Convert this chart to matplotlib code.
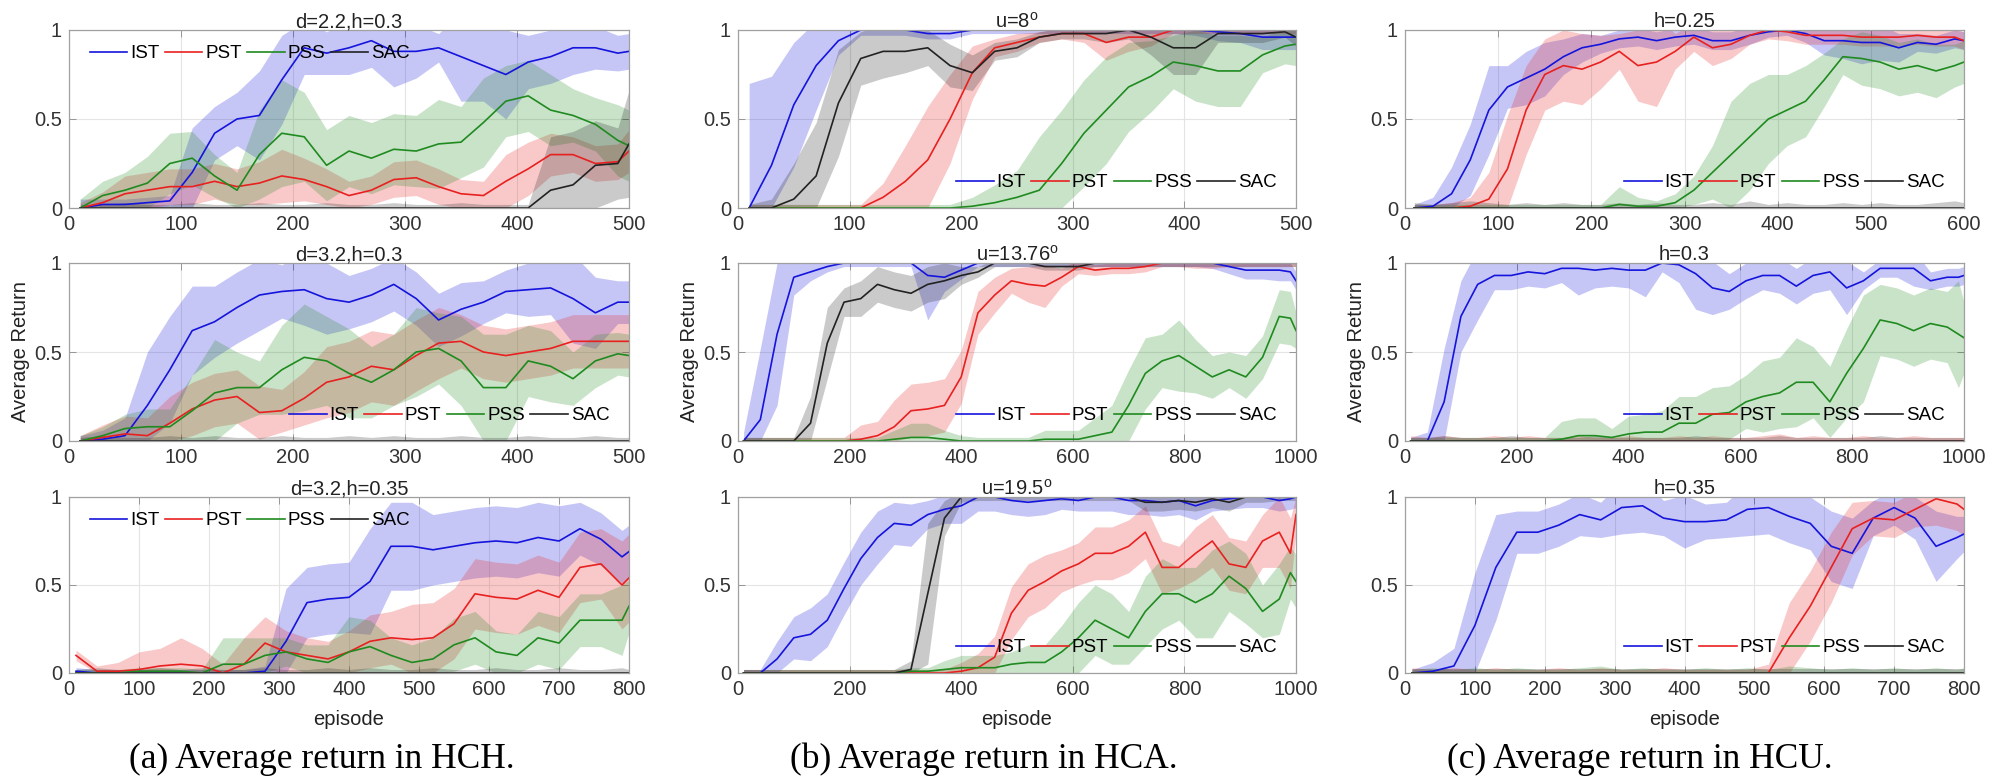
import numpy as np
import matplotlib.pyplot as plt

plt.rcParams['font.family'] = ['Liberation Sans', 'DejaVu Sans']
plt.rcParams['mathtext.fontset'] = 'custom'
plt.rcParams['mathtext.rm'] = 'Liberation Sans'
plt.rcParams['mathtext.it'] = 'Liberation Sans'

# episode grids
ep_500 = np.r_[np.arange(10, 500, 20), 500]
ep_600 = np.r_[np.arange(10, 600, 20), 600]
ep_800 = np.r_[np.arange(10, 800, 30), 800]
ep_1000 = np.r_[np.arange(10, 1000, 30), 990, 1000]

methods = ["IST", "PST", "PSS", "SAC"]

# ---- (a) HCH ----
a1_ist_m = [0, 0.02, 0.02, 0.03, 0.04, 0.2, 0.42, 0.5, 0.52, 0.72, 0.9, 0.87, 0.9, 0.94, 0.88, 0.88, 0.9, 0.85, 0.8, 0.75, 0.82, 0.85, 0.9, 0.9, 0.87, 0.88]
a1_ist_sd = [0.05, 0.03, 0.03, 0.03, 0.03, 0.25, 0.15, 0.15, 0.25, 0.25, 0.15, 0.12, 0.15, 0.15, 0.2, 0.15, 0.08, 0.25, 0.2, 0.25, 0.15, 0.15, 0.15, 0.12, 0.1, 0.1]
a1_pst_m = [0, 0.03, 0.08, 0.1, 0.12, 0.12, 0.15, 0.12, 0.14, 0.18, 0.16, 0.12, 0.07, 0.1, 0.16, 0.17, 0.12, 0.08, 0.07, 0.15, 0.22, 0.3, 0.3, 0.25, 0.26, 0.32]
a1_pst_sd = [0.03, 0.06, 0.1, 0.1, 0.1, 0.1, 0.1, 0.1, 0.12, 0.15, 0.12, 0.1, 0.08, 0.08, 0.1, 0.1, 0.1, 0.08, 0.08, 0.15, 0.15, 0.12, 0.1, 0.1, 0.1, 0.12]
a1_pss_m = [0, 0.07, 0.1, 0.14, 0.25, 0.28, 0.18, 0.1, 0.3, 0.42, 0.4, 0.24, 0.32, 0.28, 0.33, 0.32, 0.36, 0.37, 0.48, 0.6, 0.63, 0.55, 0.52, 0.47, 0.38, 0.35]
a1_pss_sd = [0.05, 0.08, 0.1, 0.15, 0.17, 0.15, 0.12, 0.1, 0.25, 0.3, 0.25, 0.2, 0.2, 0.2, 0.2, 0.2, 0.25, 0.2, 0.25, 0.2, 0.2, 0.2, 0.15, 0.15, 0.2, 0.2]
a1_sac_m = [0, 0, 0, 0, 0, 0, 0, 0, 0, 0, 0, 0, 0, 0, 0, 0, 0, 0, 0, 0, 0, 0.1, 0.13, 0.24, 0.25, 0.36]
a1_sac_sd = [0.02, 0.02, 0.03, 0.02, 0.02, 0.03, 0.02, 0.02, 0.03, 0.02, 0.02, 0.03, 0.02, 0.02, 0.03, 0.02, 0.02, 0.03, 0.02, 0.02, 0.02, 0.3, 0.3, 0.25, 0.2, 0.3]

a2_ist_m = [0, 0.01, 0.03, 0.2, 0.4, 0.62, 0.67, 0.75, 0.82, 0.84, 0.85, 0.8, 0.78, 0.82, 0.88, 0.8, 0.68, 0.74, 0.78, 0.84, 0.85, 0.86, 0.8, 0.72, 0.78, 0.78]
a2_ist_sd = [0.03, 0.05, 0.1, 0.3, 0.3, 0.25, 0.2, 0.2, 0.2, 0.15, 0.2, 0.2, 0.15, 0.15, 0.15, 0.15, 0.15, 0.15, 0.12, 0.12, 0.15, 0.15, 0.25, 0.2, 0.12, 0.12]
a2_pst_m = [0, 0.02, 0.04, 0.03, 0.1, 0.18, 0.23, 0.25, 0.16, 0.17, 0.24, 0.33, 0.36, 0.42, 0.4, 0.48, 0.55, 0.56, 0.5, 0.48, 0.5, 0.52, 0.56, 0.56, 0.56, 0.56]
a2_pst_sd = [0.03, 0.07, 0.1, 0.1, 0.15, 0.15, 0.15, 0.15, 0.15, 0.12, 0.15, 0.2, 0.2, 0.2, 0.2, 0.2, 0.2, 0.15, 0.15, 0.15, 0.15, 0.15, 0.15, 0.15, 0.15, 0.15]
a2_pss_m = [0, 0.03, 0.07, 0.08, 0.08, 0.17, 0.27, 0.3, 0.3, 0.4, 0.47, 0.45, 0.38, 0.33, 0.4, 0.5, 0.52, 0.45, 0.3, 0.3, 0.45, 0.42, 0.35, 0.45, 0.49, 0.48]
a2_pss_sd = [0.03, 0.05, 0.08, 0.1, 0.1, 0.2, 0.3, 0.2, 0.15, 0.25, 0.3, 0.25, 0.25, 0.2, 0.2, 0.25, 0.2, 0.25, 0.3, 0.3, 0.2, 0.2, 0.15, 0.15, 0.12, 0.12]
a2_sac_m = [0, 0, 0, 0, 0, 0, 0, 0, 0, 0, 0, 0, 0, 0, 0, 0, 0, 0, 0, 0, 0, 0, 0, 0, 0, 0]
a2_sac_sd = [0.02, 0.03, 0.02, 0.02, 0.03, 0.02, 0.03, 0.02, 0.02, 0.03, 0.02, 0.02, 0.03, 0.02, 0.03, 0.02, 0.02, 0.03, 0.02, 0.02, 0.03, 0.02, 0.02, 0.03, 0.02, 0.02]

a3_ist_m = [0.01, 0, 0, 0, 0, 0, 0, 0, 0, 0.01, 0.18, 0.4, 0.42, 0.43, 0.52, 0.72, 0.72, 0.7, 0.72, 0.74, 0.75, 0.74, 0.77, 0.75, 0.82, 0.76, 0.66, 0.69]
a3_ist_sd = [0.02, 0.02, 0.02, 0.02, 0.02, 0.02, 0.02, 0.02, 0.02, 0.03, 0.3, 0.2, 0.2, 0.2, 0.3, 0.25, 0.25, 0.2, 0.2, 0.2, 0.2, 0.2, 0.2, 0.2, 0.15, 0.15, 0.15, 0.15]
a3_pst_m = [0.1, 0.01, 0.01, 0.02, 0.04, 0.05, 0.04, 0.0, 0.05, 0.17, 0.12, 0.1, 0.08, 0.12, 0.18, 0.2, 0.19, 0.2, 0.28, 0.45, 0.43, 0.42, 0.47, 0.43, 0.6, 0.62, 0.5, 0.54]
a3_pst_sd = [0.03, 0.03, 0.05, 0.1, 0.1, 0.15, 0.1, 0.05, 0.15, 0.15, 0.12, 0.1, 0.1, 0.12, 0.15, 0.15, 0.2, 0.2, 0.2, 0.2, 0.2, 0.2, 0.2, 0.2, 0.2, 0.2, 0.25, 0.25]
a3_pss_m = [0, 0, 0, 0.01, 0.01, 0.01, 0, 0.05, 0.05, 0.1, 0.12, 0.08, 0.06, 0.12, 0.15, 0.1, 0.06, 0.08, 0.16, 0.2, 0.12, 0.1, 0.2, 0.17, 0.3, 0.3, 0.3, 0.38]
a3_pss_sd = [0.02, 0.02, 0.02, 0.02, 0.02, 0.02, 0.02, 0.15, 0.15, 0.1, 0.08, 0.08, 0.1, 0.2, 0.15, 0.1, 0.1, 0.12, 0.15, 0.15, 0.12, 0.12, 0.15, 0.15, 0.15, 0.15, 0.2, 0.15]
a3_sac_m = [0, 0, 0, 0, 0, 0, 0, 0, 0, 0, 0, 0, 0, 0, 0, 0, 0, 0, 0, 0, 0, 0, 0, 0, 0, 0, 0, 0]
a3_sac_sd = [0.02, 0.03, 0.02, 0.02, 0.03, 0.02, 0.03, 0.02, 0.02, 0.03, 0.02, 0.02, 0.03, 0.02, 0.03, 0.02, 0.02, 0.03, 0.02, 0.02, 0.03, 0.02, 0.02, 0.03, 0.02, 0.02, 0.03, 0.02]

# ---- (b) HCA ----
b1_ist_m = [0, 0.24, 0.58, 0.8, 0.94, 1, 1, 1, 0.98, 0.98, 1, 1, 1, 1, 1, 1, 1, 1, 1, 1, 1, 0.99, 0.98, 0.96, 0.96, 0.96]
b1_ist_sd = [0.7, 0.5, 0.35, 0.25, 0.08, 0.03, 0.03, 0.03, 0.03, 0.03, 0.02, 0.02, 0.02, 0.02, 0.02, 0.02, 0.02, 0.02, 0.02, 0.02, 0.03, 0.05, 0.05, 0.07, 0.07, 0.07]
b1_pst_m = [0, 0, 0, 0, 0, 0, 0.06, 0.15, 0.27, 0.5, 0.76, 0.9, 0.93, 0.96, 0.98, 0.98, 0.93, 0.96, 0.96, 1, 1, 1, 1, 1, 1, 1]
b1_pst_sd = [0.02, 0.02, 0.02, 0.02, 0.02, 0.02, 0.08, 0.2, 0.3, 0.25, 0.15, 0.05, 0.05, 0.03, 0.03, 0.05, 0.1, 0.08, 0.05, 0.02, 0.02, 0.02, 0.02, 0.02, 0.02, 0.02]
b1_pss_m = [0, 0, 0, 0, 0, 0, 0, 0, 0, 0, 0.01, 0.03, 0.06, 0.1, 0.25, 0.42, 0.55, 0.68, 0.74, 0.82, 0.8, 0.77, 0.77, 0.86, 0.91, 0.92]
b1_pss_sd = [0.02, 0.02, 0.02, 0.02, 0.02, 0.02, 0.02, 0.02, 0.02, 0.02, 0.05, 0.1, 0.15, 0.3, 0.3, 0.3, 0.3, 0.25, 0.2, 0.15, 0.2, 0.2, 0.2, 0.1, 0.1, 0.12]
b1_sac_m = [0, 0, 0.05, 0.18, 0.59, 0.84, 0.88, 0.88, 0.9, 0.8, 0.76, 0.88, 0.9, 0.96, 0.98, 0.98, 0.98, 1, 0.96, 0.9, 0.9, 0.98, 0.98, 0.98, 0.99, 0.96]
b1_sac_sd = [0.02, 0.05, 0.2, 0.3, 0.3, 0.15, 0.15, 0.12, 0.1, 0.12, 0.1, 0.05, 0.05, 0.03, 0.03, 0.03, 0.05, 0.05, 0.1, 0.15, 0.15, 0.05, 0.05, 0.05, 0.03, 0.05]

b2_ist_m = [0, 0.12, 0.6, 0.92, 0.95, 0.98, 1, 1, 1, 1, 1, 0.93, 0.92, 0.96, 1, 1, 1, 1, 1, 1, 1, 1, 1, 1, 1, 1, 1, 1, 1, 0.98, 0.96, 0.96, 0.96, 0.95, 0.9]
b2_ist_sd = [0.05, 0.4, 0.4, 0.1, 0.05, 0.03, 0.02, 0.02, 0.02, 0.02, 0.02, 0.25, 0.08, 0.05, 0.02, 0.02, 0.02, 0.02, 0.02, 0.02, 0.02, 0.02, 0.02, 0.02, 0.02, 0.02, 0.02, 0.02, 0.03, 0.04, 0.05, 0.05, 0.06, 0.05, 0.05]
b2_pst_m = [0, 0, 0, 0, 0, 0, 0, 0.01, 0.03, 0.08, 0.17, 0.18, 0.2, 0.36, 0.72, 0.82, 0.9, 0.88, 0.87, 0.92, 0.98, 0.96, 0.97, 0.97, 0.98, 1, 1, 1, 1, 1, 1, 1, 1, 1, 1]
b2_pst_sd = [0.02, 0.02, 0.02, 0.02, 0.02, 0.02, 0.02, 0.08, 0.08, 0.15, 0.15, 0.15, 0.15, 0.15, 0.12, 0.1, 0.07, 0.1, 0.12, 0.05, 0.04, 0.03, 0.03, 0.03, 0.03, 0.02, 0.02, 0.03, 0.03, 0.02, 0.02, 0.02, 0.02, 0.02, 0.02]
b2_pss_m = [0, 0, 0, 0, 0, 0, 0, 0, 0, 0.01, 0.02, 0.02, 0.01, 0, 0, 0, 0, 0, 0.01, 0.01, 0.01, 0.03, 0.05, 0.2, 0.38, 0.45, 0.48, 0.42, 0.36, 0.4, 0.36, 0.47, 0.7, 0.69, 0.62]
b2_pss_sd = [0.02, 0.02, 0.02, 0.02, 0.02, 0.02, 0.02, 0.02, 0.02, 0.05, 0.08, 0.08, 0.05, 0.03, 0.02, 0.02, 0.02, 0.02, 0.05, 0.05, 0.05, 0.1, 0.15, 0.2, 0.2, 0.15, 0.2, 0.15, 0.12, 0.1, 0.12, 0.12, 0.15, 0.15, 0.1]
b2_sac_m = [0, 0, 0, 0, 0.1, 0.55, 0.78, 0.8, 0.88, 0.85, 0.83, 0.88, 0.9, 0.93, 0.95, 1, 1, 1, 0.98, 0.98, 0.98, 1, 1, 1, 1, 1, 1, 1, 1, 1, 1, 1, 1, 1, 1]
b2_sac_sd = [0.02, 0.02, 0.02, 0.02, 0.15, 0.2, 0.08, 0.1, 0.1, 0.1, 0.1, 0.1, 0.1, 0.05, 0.03, 0.02, 0.02, 0.02, 0.02, 0.02, 0.02, 0.02, 0.02, 0.02, 0.02, 0.02, 0.02, 0.02, 0.02, 0.02, 0.02, 0.02, 0.02, 0.02, 0.02]

b3_ist_m = [0, 0, 0.08, 0.2, 0.22, 0.3, 0.48, 0.65, 0.77, 0.85, 0.84, 0.9, 0.93, 0.95, 1, 1, 0.98, 0.97, 0.98, 0.99, 0.98, 1, 1, 0.98, 0.98, 0.97, 0.98, 0.95, 0.98, 0.99, 1, 1, 0.98, 0.99, 1]
b3_ist_sd = [0.02, 0.02, 0.1, 0.12, 0.15, 0.15, 0.15, 0.15, 0.15, 0.12, 0.12, 0.08, 0.08, 0.1, 0.08, 0.08, 0.08, 0.08, 0.08, 0.06, 0.06, 0.08, 0.08, 0.08, 0.08, 0.08, 0.08, 0.08, 0.06, 0.06, 0.06, 0.06, 0.06, 0.06, 0.06]
b3_pst_m = [0, 0, 0, 0, 0, 0, 0, 0, 0, 0, 0, 0, 0, 0.01, 0.03, 0.09, 0.34, 0.47, 0.52, 0.58, 0.62, 0.68, 0.68, 0.72, 0.8, 0.6, 0.6, 0.68, 0.75, 0.62, 0.6, 0.75, 0.8, 0.68, 0.9]
b3_pst_sd = [0.02, 0.02, 0.02, 0.02, 0.02, 0.02, 0.02, 0.02, 0.02, 0.02, 0.02, 0.02, 0.02, 0.05, 0.08, 0.12, 0.15, 0.15, 0.15, 0.12, 0.12, 0.15, 0.15, 0.15, 0.15, 0.15, 0.12, 0.15, 0.15, 0.15, 0.15, 0.15, 0.2, 0.2, 0.1]
b3_pss_m = [0, 0, 0, 0, 0, 0, 0, 0, 0, 0, 0.01, 0.01, 0.02, 0.03, 0.03, 0.03, 0.05, 0.06, 0.06, 0.12, 0.2, 0.3, 0.25, 0.2, 0.35, 0.45, 0.45, 0.4, 0.45, 0.55, 0.48, 0.35, 0.42, 0.57, 0.52]
b3_pss_sd = [0.02, 0.02, 0.02, 0.02, 0.02, 0.02, 0.02, 0.02, 0.02, 0.02, 0.02, 0.02, 0.05, 0.07, 0.07, 0.07, 0.07, 0.1, 0.1, 0.15, 0.2, 0.2, 0.2, 0.15, 0.2, 0.2, 0.15, 0.2, 0.25, 0.2, 0.2, 0.15, 0.2, 0.15, 0.15]
b3_sac_m = [0, 0, 0, 0, 0, 0, 0, 0, 0, 0, 0.02, 0.45, 0.88, 1, 1, 1, 1, 1, 1, 1, 1, 1, 1, 1, 0.97, 0.97, 0.98, 0.97, 0.99, 0.97, 1, 1, 1, 1, 1]
b3_sac_sd = [0.02, 0.02, 0.02, 0.02, 0.02, 0.02, 0.02, 0.02, 0.02, 0.02, 0.05, 0.4, 0.1, 0.03, 0.02, 0.02, 0.02, 0.02, 0.02, 0.02, 0.02, 0.02, 0.02, 0.02, 0.05, 0.05, 0.05, 0.05, 0.05, 0.05, 0.03, 0.03, 0.02, 0.02, 0.02]

# ---- (c) HCU ----
c1_ist_m = [0, 0.01, 0.08, 0.27, 0.55, 0.68, 0.73, 0.78, 0.85, 0.9, 0.92, 0.95, 0.96, 0.94, 0.96, 0.97, 0.94, 0.94, 0.97, 0.99, 1, 0.98, 0.94, 0.94, 0.93, 0.93, 0.9, 0.93, 0.92, 0.95, 0.94]
c1_ist_sd = [0.02, 0.05, 0.15, 0.2, 0.25, 0.12, 0.15, 0.15, 0.1, 0.08, 0.05, 0.05, 0.05, 0.05, 0.05, 0.05, 0.05, 0.05, 0.05, 0.03, 0.03, 0.05, 0.08, 0.1, 0.12, 0.1, 0.08, 0.05, 0.05, 0.05, 0.05]
c1_pst_m = [0, 0, 0, 0.01, 0.05, 0.22, 0.55, 0.75, 0.8, 0.78, 0.82, 0.88, 0.8, 0.82, 0.88, 0.96, 0.9, 0.92, 0.97, 1, 0.99, 0.97, 0.97, 0.97, 0.96, 0.96, 0.96, 0.97, 0.96, 0.96, 0.94]
c1_pst_sd = [0.02, 0.02, 0.03, 0.05, 0.15, 0.3, 0.25, 0.2, 0.2, 0.2, 0.15, 0.1, 0.2, 0.25, 0.1, 0.08, 0.1, 0.08, 0.05, 0.05, 0.05, 0.05, 0.05, 0.05, 0.05, 0.05, 0.05, 0.05, 0.05, 0.05, 0.05]
c1_pss_m = [0, 0, 0, 0, 0, 0, 0, 0, 0, 0, 0, 0.02, 0.01, 0.01, 0.03, 0.1, 0.2, 0.3, 0.4, 0.5, 0.55, 0.6, 0.72, 0.85, 0.84, 0.82, 0.78, 0.8, 0.77, 0.8, 0.82]
c1_pss_sd = [0.02, 0.02, 0.02, 0.02, 0.02, 0.02, 0.02, 0.02, 0.02, 0.02, 0.02, 0.1, 0.05, 0.03, 0.05, 0.08, 0.15, 0.3, 0.3, 0.25, 0.2, 0.2, 0.15, 0.1, 0.15, 0.15, 0.15, 0.15, 0.15, 0.12, 0.12]
c1_sac_m = [0, 0, 0, 0, 0, 0, 0, 0, 0, 0, 0, 0, 0, 0, 0, 0, 0, 0, 0, 0, 0, 0, 0, 0, 0, 0, 0, 0, 0, 0, 0]
c1_sac_sd = [0.03, 0.02, 0.03, 0.04, 0.03, 0.02, 0.03, 0.02, 0.03, 0.02, 0.02, 0.03, 0.02, 0.03, 0.02, 0.02, 0.03, 0.02, 0.04, 0.02, 0.03, 0.02, 0.02, 0.03, 0.02, 0.03, 0.02, 0.02, 0.03, 0.04, 0.03]

c2_ist_m = [0, 0, 0.22, 0.7, 0.88, 0.93, 0.93, 0.95, 0.94, 0.97, 0.97, 0.96, 0.97, 0.96, 0.96, 1, 0.99, 0.94, 0.86, 0.84, 0.9, 0.93, 0.93, 0.87, 0.93, 0.95, 0.86, 0.9, 0.97, 0.97, 0.97, 0.9, 0.92, 0.92, 0.93]
c2_ist_sd = [0.02, 0.05, 0.3, 0.2, 0.2, 0.08, 0.08, 0.08, 0.08, 0.08, 0.15, 0.1, 0.1, 0.1, 0.15, 0.05, 0.1, 0.2, 0.15, 0.1, 0.1, 0.08, 0.1, 0.1, 0.1, 0.1, 0.15, 0.05, 0.05, 0.05, 0.1, 0.05, 0.05, 0.05, 0.05]
c2_pst_m = [0, 0, 0, 0, 0, 0, 0, 0, 0, 0, 0, 0, 0, 0, 0, 0, 0, 0, 0, 0, 0, 0, 0, 0, 0, 0, 0, 0, 0, 0, 0, 0, 0, 0, 0]
c2_pst_sd = [0.03, 0.02, 0.03, 0.02, 0.02, 0.03, 0.02, 0.03, 0.02, 0.02, 0.03, 0.02, 0.02, 0.03, 0.02, 0.02, 0.03, 0.02, 0.03, 0.02, 0.02, 0.03, 0.04, 0.02, 0.03, 0.02, 0.02, 0.03, 0.02, 0.02, 0.03, 0.02, 0.02, 0.02, 0.02]
c2_pss_m = [0, 0, 0, 0, 0, 0, 0, 0, 0, 0.01, 0.03, 0.03, 0.02, 0.04, 0.05, 0.05, 0.1, 0.1, 0.15, 0.16, 0.22, 0.25, 0.27, 0.33, 0.33, 0.22, 0.38, 0.52, 0.68, 0.66, 0.62, 0.66, 0.64, 0.6, 0.58]
c2_pss_sd = [0.02, 0.02, 0.02, 0.02, 0.02, 0.02, 0.02, 0.02, 0.02, 0.1, 0.1, 0.1, 0.05, 0.1, 0.1, 0.12, 0.15, 0.15, 0.15, 0.15, 0.15, 0.2, 0.2, 0.25, 0.2, 0.2, 0.25, 0.3, 0.2, 0.2, 0.2, 0.2, 0.2, 0.3, 0.2]
c2_sac_m = [0, 0, 0, 0, 0, 0, 0, 0, 0, 0, 0, 0, 0, 0, 0, 0, 0, 0, 0, 0, 0, 0, 0, 0, 0, 0, 0, 0, 0, 0, 0, 0, 0, 0, 0]
c2_sac_sd = [0.02, 0.02, 0.03, 0.02, 0.02, 0.02, 0.03, 0.02, 0.02, 0.02, 0.02, 0.03, 0.02, 0.02, 0.02, 0.02, 0.02, 0.03, 0.02, 0.02, 0.02, 0.02, 0.03, 0.02, 0.02, 0.02, 0.02, 0.02, 0.03, 0.02, 0.02, 0.02, 0.02, 0.02, 0.02]

c3_ist_m = [0, 0.01, 0.04, 0.27, 0.6, 0.8, 0.8, 0.84, 0.9, 0.87, 0.94, 0.95, 0.88, 0.86, 0.86, 0.87, 0.93, 0.94, 0.89, 0.85, 0.72, 0.68, 0.88, 0.94, 0.88, 0.72, 0.77, 0.79]
c3_ist_sd = [0.02, 0.05, 0.1, 0.3, 0.3, 0.12, 0.12, 0.12, 0.12, 0.1, 0.15, 0.15, 0.1, 0.15, 0.1, 0.1, 0.15, 0.15, 0.15, 0.15, 0.2, 0.2, 0.1, 0.1, 0.12, 0.2, 0.12, 0.1]
c3_pst_m = [0, 0, 0, 0, 0, 0, 0, 0, 0, 0, 0, 0, 0, 0, 0, 0, 0, 0, 0.2, 0.38, 0.6, 0.82, 0.88, 0.87, 0.93, 0.99, 0.96, 0.93]
c3_pst_sd = [0.03, 0.02, 0.03, 0.02, 0.03, 0.02, 0.02, 0.03, 0.02, 0.03, 0.02, 0.02, 0.03, 0.02, 0.02, 0.02, 0.02, 0.05, 0.2, 0.2, 0.2, 0.15, 0.1, 0.1, 0.1, 0.15, 0.15, 0.15]
c3_pss_m = [0, 0, 0, 0, 0, 0, 0, 0, 0, 0, 0, 0, 0, 0, 0, 0, 0, 0, 0, 0, 0, 0, 0, 0, 0, 0, 0, 0]
c3_pss_sd = [0.02, 0.03, 0.02, 0.03, 0.02, 0.03, 0.02, 0.02, 0.03, 0.04, 0.02, 0.03, 0.02, 0.02, 0.03, 0.02, 0.03, 0.02, 0.04, 0.03, 0.02, 0.03, 0.02, 0.03, 0.02, 0.03, 0.02, 0.03]
c3_sac_m = [0, 0, 0, 0, 0, 0, 0, 0, 0, 0, 0, 0, 0, 0, 0, 0, 0, 0, 0, 0, 0, 0, 0, 0, 0, 0, 0, 0]
c3_sac_sd = [0.02, 0.02, 0.02, 0.02, 0.02, 0.02, 0.02, 0.02, 0.02, 0.02, 0.02, 0.02, 0.02, 0.02, 0.02, 0.02, 0.02, 0.02, 0.02, 0.02, 0.02, 0.02, 0.02, 0.02, 0.02, 0.02, 0.02, 0.02]

titles = [["d=2.2,h=0.3", "u=8$^{\\mathrm{o}}$", "h=0.25"],
          ["d=3.2,h=0.3", "u=13.76$^{\\mathrm{o}}$", "h=0.3"],
          ["d=3.2,h=0.35", "u=19.5$^{\\mathrm{o}}$", "h=0.35"]]
captions = ["(a) Average return in HCH.", "(b) Average return in HCA.", "(c) Average return in HCU."]

g = globals()
grids = [[ep_500, ep_500, ep_600],
         [ep_500, ep_1000, ep_1000],
         [ep_800, ep_1000, ep_800]]
names = [["a1", "b1", "c1"], ["a2", "b2", "c2"], ["a3", "b3", "c3"]]
legend_top = {"a1", "a3"}

colors = ["#1414dc", "#e82020", "#1f8a1f", "#222222"]

fig = plt.figure(figsize=(19.89, 7.83), dpi=100)
W, H = 1989, 783
col_px = [(69, 629), (738, 1296), (1405, 1964)]
row_px = [(30, 208), (263, 441), (497, 673)]
cap_x = [322, 984, 1640]

for r in range(3):
    for c in range(3):
        x0, x1 = col_px[c]
        y0, y1 = row_px[r]
        ax = fig.add_axes([x0 / W, 1 - y1 / H, (x1 - x0) / W, (y1 - y0) / H])
        ep = grids[r][c]
        key = names[r][c]
        for k, meth in enumerate(methods):
            m = np.array(g[f"{key}_{meth.lower()}_m"], dtype=float)
            sd = np.array(g[f"{key}_{meth.lower()}_sd"], dtype=float)
            ax.fill_between(ep, np.clip(m - sd, 0, None), m + sd,
                            color=colors[k], alpha=0.24, lw=0)
        for k, meth in enumerate(methods):
            m = np.array(g[f"{key}_{meth.lower()}_m"], dtype=float)
            ax.plot(ep, m, color=colors[k], lw=1.2, label=meth)
        xmax = ep[-1]
        ax.set_xlim(0, xmax)
        ax.set_ylim(0, 1)
        step = 200 if xmax == 1000 else 100
        ax.set_xticks(np.arange(0, xmax + 1, step))
        ax.set_yticks([0, 0.5, 1])
        ax.set_yticklabels(["0", "0.5", "1"])
        ax.grid(True, color="#e4e4e4", lw=0.8)
        ax.set_axisbelow(True)
        ax.tick_params(direction="in", top=True, right=True, length=5,
                       width=0.6, color="#888888", labelsize=14.5,
                       labelcolor="#333333", pad=5)
        for s in ax.spines.values():
            s.set_color("#a0a0a0")
            s.set_linewidth(0.9)
        ax.set_title(titles[r][c], fontsize=14.5, pad=2, color="#222222")
        if key in legend_top:
            ax.legend(loc="upper left", bbox_to_anchor=(0.01, 1.0), ncol=4,
                      frameon=False, fontsize=13.5, handlelength=2.0,
                      handletextpad=0.15, columnspacing=0.3, borderpad=0.3)
        else:
            ax.legend(loc="lower right", bbox_to_anchor=(0.995, 0.0), ncol=4,
                      frameon=False, fontsize=13.5, handlelength=2.0,
                      handletextpad=0.15, columnspacing=0.3, borderpad=0.4)
        if r == 1:
            ax.set_ylabel("Average Return", fontsize=14.5, color="#222222", labelpad=3)
        if r == 2:
            ax.set_xlabel("episode", fontsize=14.5, color="#222222", labelpad=8)

for c in range(3):
    fig.text(cap_x[c] / W, 1 - 759 / H, captions[c],
             ha="center", va="center", fontsize=25.5, family="Liberation Serif")

fig.savefig("out.png", dpi=100)
